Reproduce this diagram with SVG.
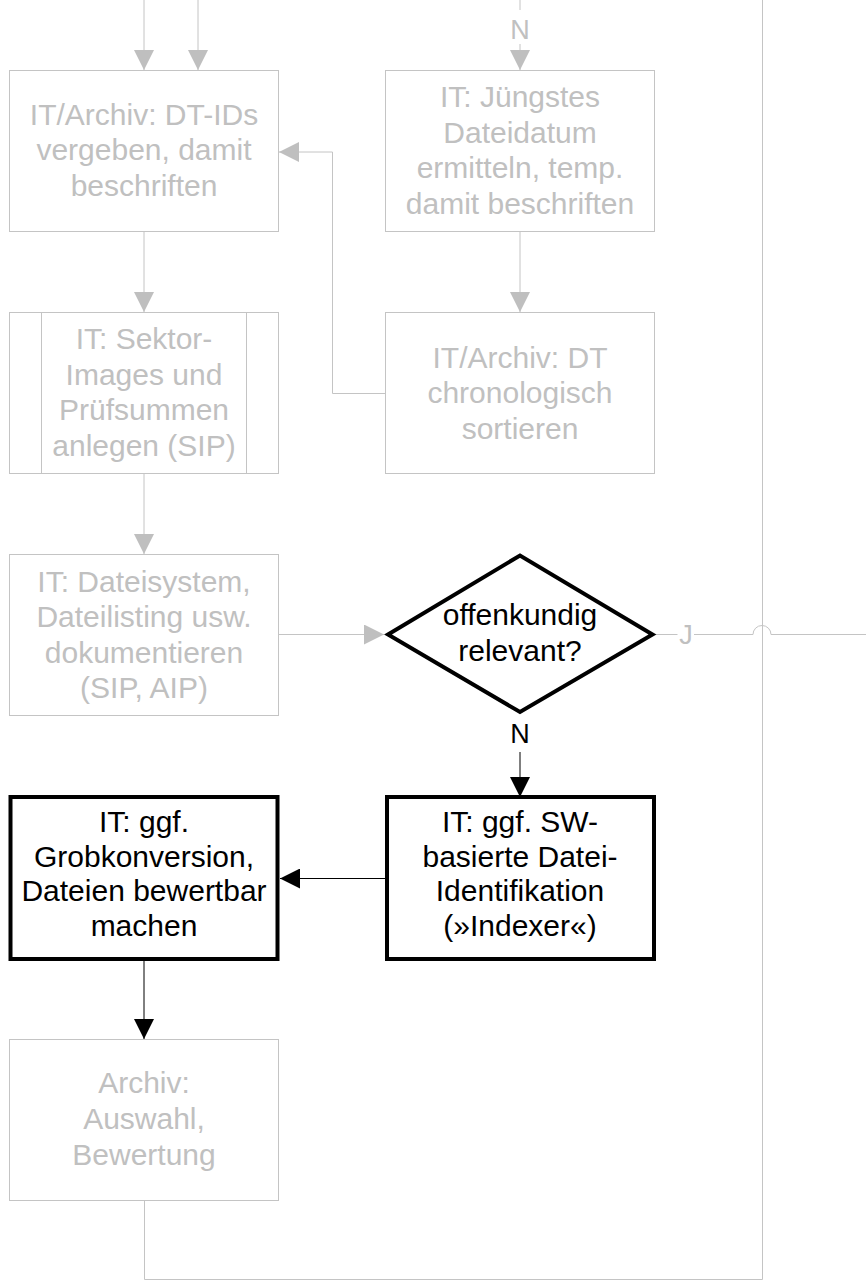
<svg xmlns="http://www.w3.org/2000/svg" width="866" height="1281" viewBox="0 0 866 1281">
<style>
.g{fill:#fff;stroke:#c4c4c4;stroke-width:1}
.b{fill:#fff;stroke:#000;stroke-width:4}
.t{font-family:"Liberation Sans",Arial,sans-serif;font-size:30px;text-anchor:middle}
.tg{fill:#c0c0c0}
.tb{fill:#000}
.lbl{font-family:"Liberation Sans",Arial,sans-serif;font-size:27px;text-anchor:middle}
.cg{fill:none;stroke:#c4c4c4;stroke-width:1}
.cb{fill:none;stroke:#000;stroke-width:1}
</style>
<defs>
<marker id="ag" markerUnits="userSpaceOnUse" markerWidth="20" markerHeight="20" refX="20" refY="10" orient="auto" viewBox="0 0 20 20"><path d="M0,0 L20,10 L0,20 z" fill="#bfbfbf"/></marker>
<marker id="ab" markerUnits="userSpaceOnUse" markerWidth="20" markerHeight="20" refX="20" refY="10" orient="auto" viewBox="0 0 20 20"><path d="M0,0 L20,10 L0,20 z" fill="#000"/></marker>
</defs>
<g id="connectors">
<path class="cg" d="M144,0 V70" marker-end="url(#ag)"/>
<path class="cg" d="M198,0 V70" marker-end="url(#ag)"/>
<path class="cg" d="M520,0 V10"/>
<path class="cg" d="M520,44 V70" marker-end="url(#ag)"/>
<path class="cg" d="M144,232 V312" marker-end="url(#ag)"/>
<path class="cg" d="M520,232 V312" marker-end="url(#ag)"/>
<path class="cg" d="M385.5,393.5 H332.5 V152 H279" marker-end="url(#ag)"/>
<path class="cg" d="M144,474 V554" marker-end="url(#ag)"/>
<path class="cg" d="M278.5,634.5 H384" marker-end="url(#ag)"/>
<path class="cg" d="M656,634.5 H677.5"/>
<path class="cg" d="M694,634.5 H753 A9,9 0 0 1 771,634.5 H866"/>
<path class="cg" d="M762.5,0 V1279.5 H144.5 V1200"/>
<path class="cb" d="M520,752 V797" marker-end="url(#ab)"/>
<path class="cb" d="M385,878.5 H280" marker-end="url(#ab)"/>
<path class="cb" d="M144,961 V1039" marker-end="url(#ab)"/>
<text class="lbl tg" x="520" y="38.5">N</text>
<text class="lbl tg" x="686" y="644">J</text>
<text class="lbl tb" x="520" y="743">N</text>
</g>
<g id="n1">
<rect class="g" x="9.5" y="70.5" width="269" height="161"/>
<text class="t tg" x="144" y="124.5">IT/Archiv: DT-IDs</text>
<text class="t tg" x="144" y="160">vergeben, damit</text>
<text class="t tg" x="144" y="195.5">beschriften</text>
</g>
<g id="n2">
<rect class="g" x="385.5" y="70.5" width="269" height="161"/>
<text class="t tg" x="520" y="107">IT: Jüngstes</text>
<text class="t tg" x="520" y="142.5">Dateidatum</text>
<text class="t tg" x="520" y="178">ermitteln, temp.</text>
<text class="t tg" x="520" y="213.5">damit beschriften</text>
</g>
<g id="n3">
<rect class="g" x="9.5" y="312.5" width="269" height="161"/>
<path class="cg" d="M41.5,312.5 V473.5 M246.5,312.5 V473.5"/>
<text class="t tg" x="144" y="349">IT: Sektor-</text>
<text class="t tg" x="144" y="384.5">Images und</text>
<text class="t tg" x="144" y="420">Prüfsummen</text>
<text class="t tg" x="144" y="455.5">anlegen (SIP)</text>
</g>
<g id="n4">
<rect class="g" x="385.5" y="312.5" width="269" height="161"/>
<text class="t tg" x="520" y="367.5">IT/Archiv: DT</text>
<text class="t tg" x="520" y="403">chronologisch</text>
<text class="t tg" x="520" y="438.5">sortieren</text>
</g>
<g id="n5">
<rect class="g" x="9.5" y="554.5" width="269" height="161"/>
<text class="t tg" x="144" y="591.5">IT: Dateisystem,</text>
<text class="t tg" x="144" y="627">Dateilisting usw.</text>
<text class="t tg" x="144" y="662.5">dokumentieren</text>
<text class="t tg" x="144" y="698">(SIP, AIP)</text>
</g>
<g id="n6">
<polygon class="b" points="388,634.5 520,555.5 652.5,634.5 520,712"/>
<text class="t tb" x="520" y="625">offenkundig</text>
<text class="t tb" x="520" y="660.5">relevant?</text>
</g>
<g id="n7">
<rect class="b" x="387" y="797" width="267" height="162"/>
<text class="t tb" x="520" y="832">IT: ggf. SW-</text>
<text class="t tb" x="520" y="866.5">basierte Datei-</text>
<text class="t tb" x="520" y="901">Identifikation</text>
<text class="t tb" x="520" y="935.5">(»Indexer«)</text>
</g>
<g id="n8">
<rect class="b" x="10.5" y="797" width="267" height="162"/>
<text class="t tb" x="144" y="832">IT: ggf.</text>
<text class="t tb" x="144" y="866.5">Grobkonversion,</text>
<text class="t tb" x="144" y="901">Dateien bewertbar</text>
<text class="t tb" x="144" y="935.5">machen</text>
</g>
<g id="n9">
<rect class="g" x="9.5" y="1039.5" width="269" height="161"/>
<text class="t tg" x="144" y="1093">Archiv:</text>
<text class="t tg" x="144" y="1129">Auswahl,</text>
<text class="t tg" x="144" y="1165">Bewertung</text>
</g>
</svg>
